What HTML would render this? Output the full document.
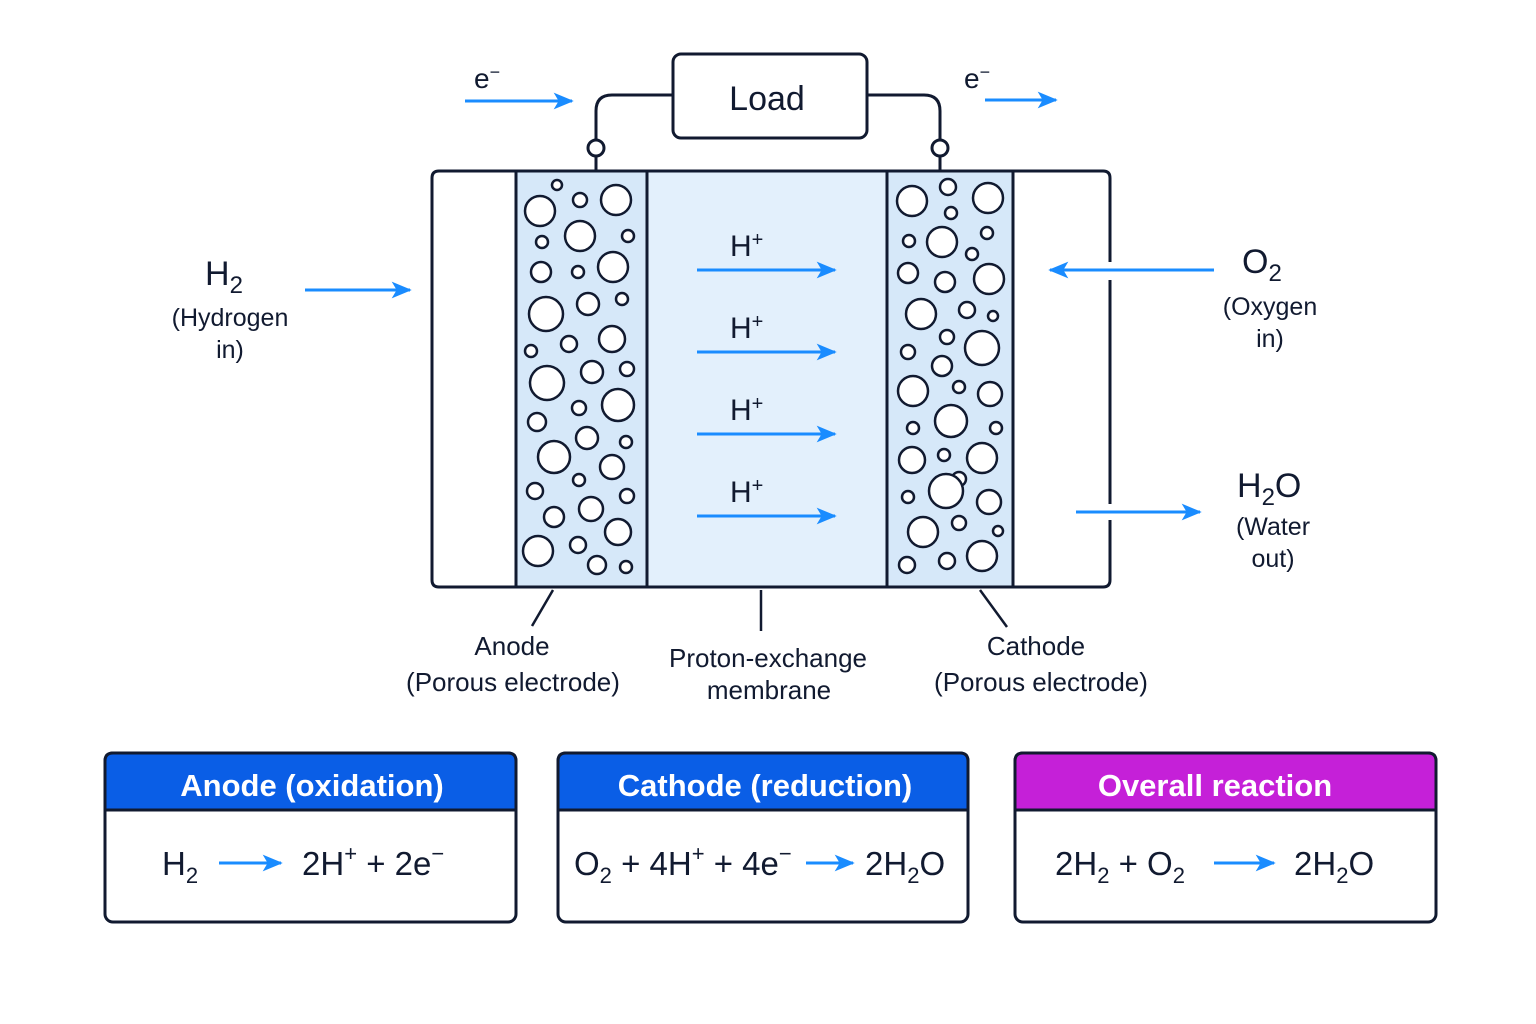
<!DOCTYPE html>
<html><head><meta charset="utf-8"><style>
body{margin:0;background:#fff}
svg{display:block}
text{font-family:"Liberation Sans","DejaVu Sans",sans-serif;fill:#111a30}
</style></head><body>
<svg width="1536" height="1024" viewBox="0 0 1536 1024" xmlns="http://www.w3.org/2000/svg">
<defs>
<marker id="ah" viewBox="0 0 10 10" refX="9" refY="5" markerWidth="7" markerHeight="7" markerUnits="userSpaceOnUse" orient="auto">
</marker>
<marker id="a" viewBox="0 0 12 10" refX="11" refY="5" markerWidth="20" markerHeight="17" markerUnits="userSpaceOnUse" orient="auto"><path d="M0,0 L12,5 L0,10 L3,5 Z" fill="#1a8cff"/></marker>
</defs>
<rect width="1536" height="1024" fill="#fff"/>
<!-- Load -->
<rect x="673" y="54" width="194" height="84" rx="8" fill="#fff" stroke="#111a30" stroke-width="3"/>
<text x="767" y="110" font-size="34" text-anchor="middle">Load</text>
<path d="M673,95 H612 Q596,95 596,111 V140" fill="none" stroke="#111a30" stroke-width="3"/>
<path d="M867,95 H924 Q940,95 940,111 V140" fill="none" stroke="#111a30" stroke-width="3"/>
<line x1="596" y1="156" x2="596" y2="172" stroke="#111a30" stroke-width="3"/>
<line x1="940" y1="156" x2="940" y2="172" stroke="#111a30" stroke-width="3"/>
<circle cx="596" cy="148" r="8" fill="#fff" stroke="#111a30" stroke-width="3"/>
<circle cx="940" cy="148" r="8" fill="#fff" stroke="#111a30" stroke-width="3"/>
<text x="474" y="88" font-size="28">e<tspan dy="-10" font-size="18">−</tspan></text>
<text x="964" y="88" font-size="28">e<tspan dy="-10" font-size="18">−</tspan></text>
<g stroke="#1a8cff" stroke-width="3" fill="none" marker-end="url(#a)">
<line x1="465" y1="101" x2="572" y2="101"/>
<line x1="985" y1="100" x2="1056" y2="100"/>
<line x1="305" y1="290" x2="410" y2="290"/>
<line x1="1214" y1="270" x2="1050" y2="270"/>
<line x1="1076" y1="512" x2="1200" y2="512"/>
</g>
<!-- cell -->
<rect x="516" y="172" width="371" height="414" fill="#e3f0fc"/>
<rect x="516" y="172" width="131" height="414" fill="#d6e8f9"/>
<rect x="887" y="172" width="126" height="414" fill="#d6e8f9"/>
<path d="M1110,262 V178 Q1110,171 1103,171 H439 Q432,171 432,178 V580 Q432,587 439,587 H1103 Q1110,587 1110,580 V520 M1110,504 V280" fill="none" stroke="#111a30" stroke-width="3"/>
<line x1="516" y1="171" x2="516" y2="587" stroke="#111a30" stroke-width="3"/>
<line x1="647" y1="171" x2="647" y2="587" stroke="#111a30" stroke-width="3"/>
<line x1="887" y1="171" x2="887" y2="587" stroke="#111a30" stroke-width="3"/>
<line x1="1013" y1="171" x2="1013" y2="587" stroke="#111a30" stroke-width="3"/>
<g fill="#fff" stroke="#111a30" stroke-width="2.5">
<circle cx="557" cy="185" r="5"/><circle cx="580" cy="200" r="7"/><circle cx="616" cy="200" r="15"/><circle cx="540" cy="211" r="15"/><circle cx="580" cy="236" r="15"/><circle cx="628" cy="236" r="6"/><circle cx="542" cy="242" r="6"/><circle cx="541" cy="272" r="10"/><circle cx="578" cy="272" r="6"/><circle cx="613" cy="267" r="15"/><circle cx="546" cy="314" r="17"/><circle cx="588" cy="304" r="11"/><circle cx="622" cy="299" r="6"/><circle cx="531" cy="351" r="6"/><circle cx="569" cy="344" r="8"/><circle cx="612" cy="339" r="13"/><circle cx="547" cy="383" r="17"/><circle cx="592" cy="372" r="11"/><circle cx="627" cy="369" r="7"/><circle cx="579" cy="408" r="7"/><circle cx="618" cy="405" r="16"/><circle cx="537" cy="422" r="9"/><circle cx="587" cy="438" r="11"/><circle cx="626" cy="442" r="6"/><circle cx="554" cy="457" r="16"/><circle cx="612" cy="467" r="12"/><circle cx="579" cy="480" r="6"/><circle cx="535" cy="491" r="8"/><circle cx="627" cy="496" r="7"/><circle cx="554" cy="517" r="10"/><circle cx="591" cy="509" r="12"/><circle cx="538" cy="551" r="15"/><circle cx="578" cy="545" r="8"/><circle cx="618" cy="532" r="13"/><circle cx="597" cy="565" r="9"/><circle cx="626" cy="567" r="6"/>
<circle cx="948" cy="187" r="8"/><circle cx="988" cy="198" r="15"/><circle cx="912" cy="201" r="15"/><circle cx="951" cy="213" r="6"/><circle cx="909" cy="241" r="6"/><circle cx="942" cy="242" r="15"/><circle cx="987" cy="233" r="6"/><circle cx="972" cy="254" r="6"/><circle cx="908" cy="273" r="10"/><circle cx="945" cy="282" r="10"/><circle cx="989" cy="279" r="15"/><circle cx="921" cy="314" r="15"/><circle cx="967" cy="310" r="8"/><circle cx="993" cy="316" r="5"/><circle cx="947" cy="337" r="7"/><circle cx="982" cy="348" r="17"/><circle cx="908" cy="352" r="7"/><circle cx="942" cy="366" r="10"/><circle cx="959" cy="387" r="6"/><circle cx="913" cy="391" r="15"/><circle cx="990" cy="394" r="12"/><circle cx="913" cy="428" r="6"/><circle cx="951" cy="421" r="16"/><circle cx="996" cy="428" r="6"/><circle cx="944" cy="455" r="6"/><circle cx="912" cy="460" r="13"/><circle cx="982" cy="458" r="15"/><circle cx="959" cy="479" r="7"/><circle cx="946" cy="491" r="17"/><circle cx="908" cy="497" r="6"/><circle cx="989" cy="502" r="12"/><circle cx="959" cy="523" r="7"/><circle cx="923" cy="532" r="15"/><circle cx="998" cy="531" r="5"/><circle cx="907" cy="565" r="8"/><circle cx="947" cy="561" r="8"/><circle cx="982" cy="556" r="15"/>
</g>
<!-- H+ -->
<g stroke="#1a8cff" stroke-width="3" marker-end="url(#a)">
<line x1="697" y1="270" x2="835" y2="270"/><line x1="697" y1="352" x2="835" y2="352"/><line x1="697" y1="434" x2="835" y2="434"/><line x1="697" y1="516" x2="835" y2="516"/>
</g>
<g font-size="30"><text x="730" y="256">H<tspan dy="-10" font-size="20">+</tspan></text><text x="730" y="338">H<tspan dy="-10" font-size="20">+</tspan></text><text x="730" y="420">H<tspan dy="-10" font-size="20">+</tspan></text><text x="730" y="502">H<tspan dy="-10" font-size="20">+</tspan></text></g>
<!-- side labels -->
<text x="205" y="285" font-size="34">H<tspan dy="8" font-size="24">2</tspan></text>
<text x="230" y="326" font-size="25" text-anchor="middle">(Hydrogen</text>
<text x="230" y="358" font-size="25" text-anchor="middle">in)</text>
<text x="1242" y="273" font-size="34">O<tspan dy="8" font-size="24">2</tspan></text>
<text x="1270" y="315" font-size="25" text-anchor="middle">(Oxygen</text>
<text x="1270" y="347" font-size="25" text-anchor="middle">in)</text>
<text x="1237" y="497" font-size="34">H<tspan dy="8" font-size="24">2</tspan><tspan dy="-8">O</tspan></text>
<text x="1273" y="535" font-size="25" text-anchor="middle">(Water</text>
<text x="1273" y="567" font-size="25" text-anchor="middle">out)</text>
<!-- leaders -->
<g stroke="#111a30" stroke-width="2.5"><line x1="553" y1="590" x2="532" y2="626"/><line x1="761" y1="590" x2="761" y2="631"/><line x1="980" y1="590" x2="1007" y2="627"/></g>
<g font-size="26" text-anchor="middle">
<text x="512" y="655">Anode</text><text x="513" y="691">(Porous electrode)</text>
<text x="768" y="667">Proton-exchange</text><text x="769" y="699">membrane</text>
<text x="1036" y="655">Cathode</text><text x="1041" y="691">(Porous electrode)</text>
</g>
<!-- boxes -->
<g stroke="#111a30" stroke-width="3">
<rect x="105" y="753" width="411" height="169" rx="8" fill="#fff"/>
<path d="M105,810 V761 Q105,753 113,753 H508 Q516,753 516,761 V810 Z" fill="#0a5ee6"/>
<rect x="558" y="753" width="410" height="169" rx="8" fill="#fff"/>
<path d="M558,810 V761 Q558,753 566,753 H960 Q968,753 968,761 V810 Z" fill="#0a5ee6"/>
<rect x="1015" y="753" width="421" height="169" rx="8" fill="#fff"/>
<path d="M1015,810 V761 Q1015,753 1023,753 H1428 Q1436,753 1436,761 V810 Z" fill="#c520d8"/>
</g>
<g font-size="31" font-weight="bold" text-anchor="middle" style="fill:#fff">
<text x="312" y="796" style="fill:#fff">Anode (oxidation)</text>
<text x="765" y="796" style="fill:#fff">Cathode (reduction)</text>
<text x="1215" y="796" style="fill:#fff">Overall reaction</text>
</g>
<g stroke="#1a8cff" stroke-width="3" marker-end="url(#a)">
<line x1="219" y1="863" x2="281" y2="863"/><line x1="806" y1="863" x2="853" y2="863"/><line x1="1214" y1="863" x2="1274" y2="863"/>
</g>
<g font-size="33">
<text x="162" y="875">H<tspan dy="8" font-size="22">2</tspan></text>
<text x="302" y="875">2H<tspan dy="-14" font-size="22">+</tspan><tspan dy="14"> + 2e</tspan><tspan dy="-14" font-size="22">−</tspan></text>
<text x="574" y="875">O<tspan dy="8" font-size="22">2</tspan><tspan dy="-8"> + 4H</tspan><tspan dy="-14" font-size="22">+</tspan><tspan dy="14"> + 4e</tspan><tspan dy="-14" font-size="22">−</tspan></text>
<text x="865" y="875">2H<tspan dy="8" font-size="22">2</tspan><tspan dy="-8">O</tspan></text>
<text x="1055" y="875">2H<tspan dy="8" font-size="22">2</tspan><tspan dy="-8"> +  O</tspan><tspan dy="8" font-size="22">2</tspan></text>
<text x="1294" y="875">2H<tspan dy="8" font-size="22">2</tspan><tspan dy="-8">O</tspan></text>
</g>
</svg>
</body></html>
